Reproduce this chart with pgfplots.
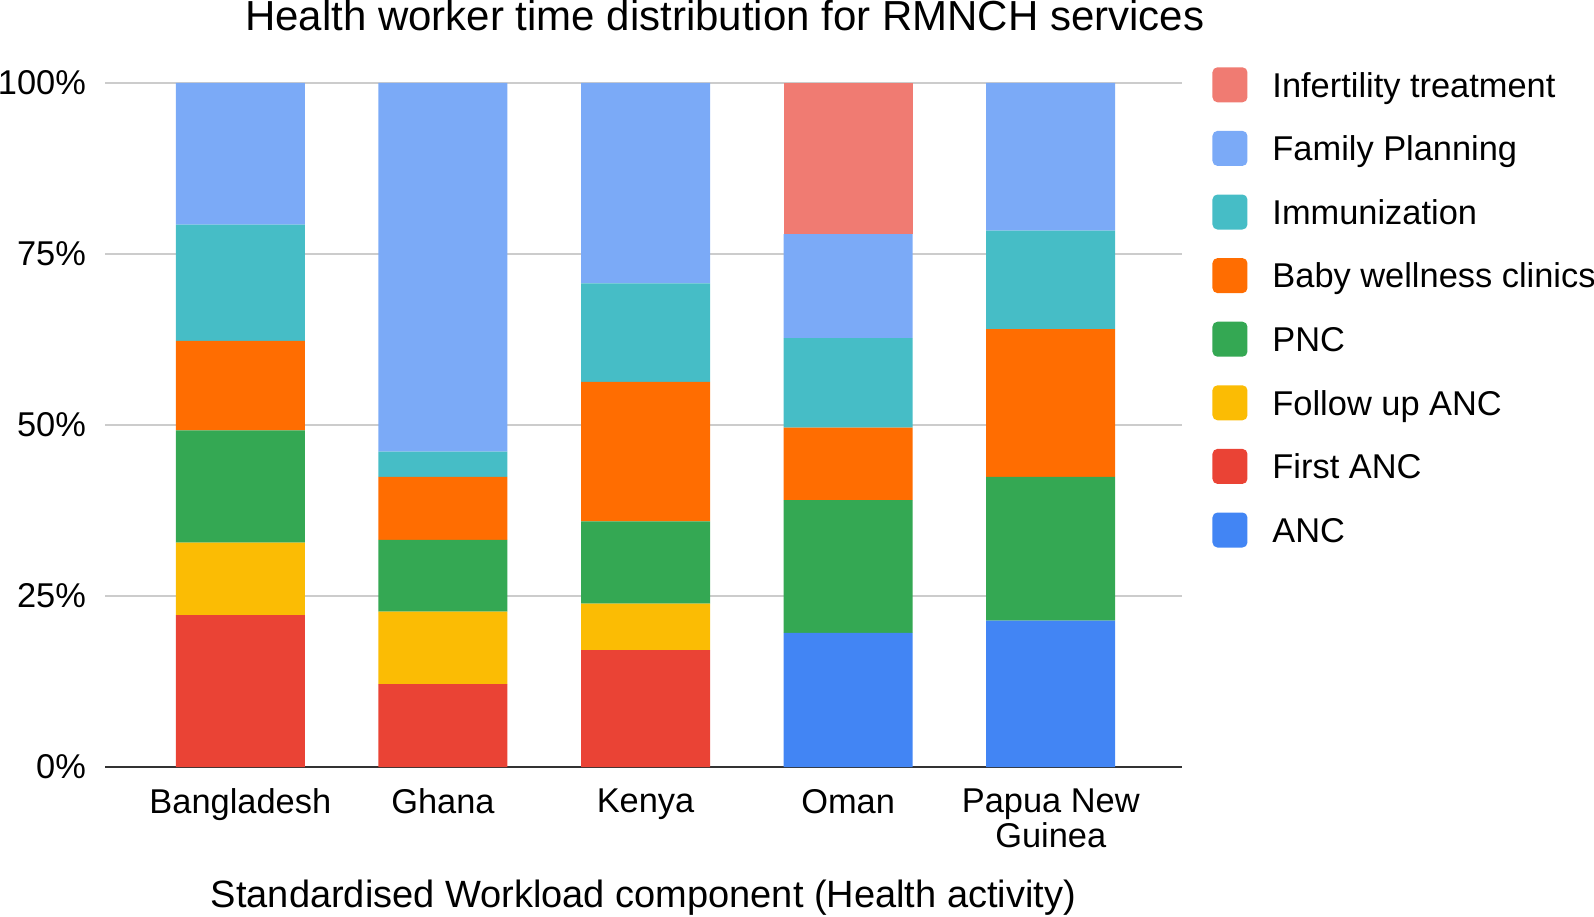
\documentclass[border=0pt]{standalone}
\usepackage{fontspec}
\setmainfont{Liberation Sans}
\usepackage{pgfplots}
\usepackage{pgfplotstable}
\pgfplotsset{compat=1.18}
\definecolor{cANC}{HTML}{4285F4}
\definecolor{cFirst}{HTML}{EA4335}
\definecolor{cFollow}{HTML}{FBBC04}
\definecolor{cPNC}{HTML}{34A853}
\definecolor{cBaby}{HTML}{FF6D01}
\definecolor{cImm}{HTML}{46BDC6}
\definecolor{cFP}{HTML}{7BAAF7}
\definecolor{cInf}{HTML}{F07B72}
\definecolor{gridgrey}{HTML}{CCCCCC}
\definecolor{axisdark}{HTML}{333333}
\pgfplotstableread{
x ANC First Follow PNC Baby Imm FP Inf
0 0 22.2 10.6 16.4 13.1 17.0 20.7 0
1 0 12.1 10.6 10.5 9.2 3.7 53.9 0
2 0 17.1 6.8 12.0 20.4 14.4 29.3 0
3 19.6 0 0 19.4 10.6 13.1 15.2 22.1
4 21.4 0 0 21.0 21.6 14.4 21.6 0
}\datatable
\pgfplotsset{sqlegend/.style={legend image code/.code={\fill[##1, draw=none, rounded corners=2.5pt] (0pt,-8.75pt) rectangle (17.5pt,8.75pt);}}}
\begin{document}
\begin{tikzpicture}
\begin{axis}[
  at={(52.5pt,74.5pt)}, anchor=south west,
  scale only axis, width=538.5pt, height=342pt,
  ybar stacked, bar width=64.5pt,
  xmin=-0.668, xmax=4.648, ymin=0, ymax=100,
  xtick={0,1,2,3,4},
  xticklabels={Bangladesh,Ghana,Kenya,Oman,{Papua New\\Guinea}},
  ytick={0,25,50,75,100},
  yticklabels={0\%,25\%,50\%,75\%,100\%},
  major tick length=0pt,
  ymajorgrids, grid style={draw=gridgrey, line width=0.75pt},
  axis x line*=bottom, axis y line*=left,
  x axis line style={draw=axisdark, line width=1pt, -},
  y axis line style={draw=none},
  tick label style={font=\fontsize{17.2}{17.5}\selectfont, text=black},
  xticklabel style={align=center, yshift=-7.5pt},
  yticklabel style={xshift=-6pt},
  title={Health worker time distribution for RMNCH services},
  title style={at={(axis description cs:0.5755,1)}, anchor=base, yshift=20pt, font=\fontsize{21}{24}\selectfont},
  xlabel={Standardised Workload component (Health activity)},
  xlabel style={at={(axis description cs:0.5,0)}, anchor=center, yshift=-65.3pt, font=\fontsize{19}{22}\selectfont},
  legend style={at={(axis description cs:1.0279,1.0326)}, anchor=north west, draw=none, fill=none, inner sep=0pt, row sep=8.1pt, column sep=10.5pt, font=\fontsize{17.2}{20}\selectfont, nodes={inner sep=2pt, text height=16pt, text depth=3.7pt}},
  legend cell align=left, reverse legend,
]
\addplot[fill=cANC, draw=none, sqlegend] table[x=x,y=ANC]{\datatable};
\addlegendentry{ANC}
\addplot[fill=cFirst, draw=none, sqlegend] table[x=x,y=First]{\datatable};
\addlegendentry{First ANC}
\addplot[fill=cFollow, draw=none, sqlegend] table[x=x,y=Follow]{\datatable};
\addlegendentry{Follow up ANC}
\addplot[fill=cPNC, draw=none, sqlegend] table[x=x,y=PNC]{\datatable};
\addlegendentry{PNC}
\addplot[fill=cBaby, draw=none, sqlegend] table[x=x,y=Baby]{\datatable};
\addlegendentry{Baby wellness clinics}
\addplot[fill=cImm, draw=none, sqlegend] table[x=x,y=Imm]{\datatable};
\addlegendentry{Immunization}
\addplot[fill=cFP, draw=none, sqlegend] table[x=x,y=FP]{\datatable};
\addlegendentry{Family Planning}
\addplot[fill=cInf, draw=none, sqlegend] table[x=x,y=Inf]{\datatable};
\addlegendentry{Infertility treatment}
\end{axis}
\pgfresetboundingbox
\path[use as bounding box] (0,0) rectangle (797pt,458pt);
\end{tikzpicture}
\end{document}
